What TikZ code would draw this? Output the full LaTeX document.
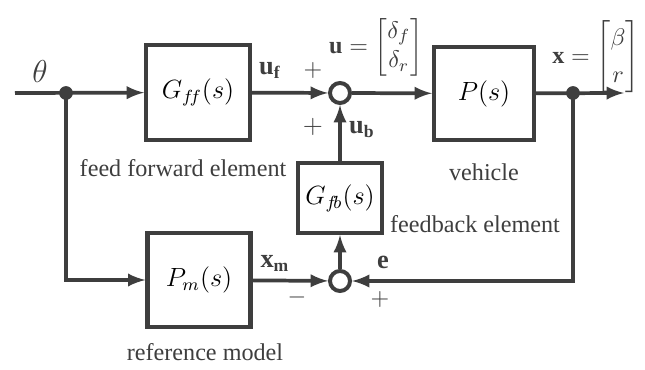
\documentclass[tikz,border=0pt]{standalone}
\usepackage{amsmath}
\usepackage{fontspec}
\setmainfont{Liberation Serif}
\usetikzlibrary{positioning}

\definecolor{ink}{RGB}{62,62,62}

\tikzset{
  blk/.style={draw=ink, line width=1.9pt, inner sep=0pt},
  sumpt/.style={draw=ink, circle, line width=1.8pt, minimum size=0.32cm, inner sep=0pt},
  dotpt/.style={circle, fill=ink, inner sep=0pt, minimum size=0.22cm},
  sig/.style={draw=ink, line width=1.7pt, -latex},
  lbl/.style={text=ink, font=\fontsize{11}{13}\selectfont},
}

\begin{document}
\begin{tikzpicture}[x=0.016cm, y=-0.016cm]
        \useasboundingbox (0,0) rectangle (645,370);
        % blocks
        \node[blk, minimum width=1.66cm, minimum height=1.52cm] (Gff) at (198,92.5) {\large $G_{f\!f}(s)$};
        \node[blk, minimum width=1.6cm, minimum height=1.49cm] (P) at (484,93.5) {\large $P(s)$};
        \node[blk, minimum width=1.34cm, minimum height=1.12cm] (Gfb) at (340,198) {\large $G_{f\!b}(s)$};
        \node[blk, minimum width=1.65cm, minimum height=1.5cm] (Pm) at (199,280) {\large $P_m(s)$};
        % junctions
        \coordinate (in) at (15,93);
        \coordinate (out) at (624,93);
        \node[dotpt] (split) at (66,93) {};
        \node[dotpt] (tap) at (573,93) {};
        \node[sumpt] (sumtop) at (340,93) {};
        \node[sumpt] (sumbot) at (340,281) {};
        % signals
        \draw[sig] (in) -- (Gff);
        \draw[sig] (Gff) -- (sumtop);
        \draw[sig] (sumtop) -- (P);
        \draw[sig] (P) -- (out);
        \draw[sig] (Gfb) -- (sumtop);
        \draw[sig] (sumbot) -- (Gfb);
        \draw[sig] (Pm) -- (sumbot);
        \draw[sig] (split.center) |- (Pm);
        \draw[sig] (tap.center) |- (sumbot);
        % signal labels
        \node[lbl] (theta) at (40,72) {\Large $\theta$};
        \node[lbl] (uf) at (270,70) {\large $\mathbf{u}_\mathbf{f}$};
        \node[lbl] (ub) at (362,130) {\large $\mathbf{u}_\mathbf{b}$};
        \node[lbl] (xm) at (275,263) {\large $\mathbf{x}_\mathbf{m}$};
        \node[lbl] (e) at (383,262) {\large $\mathbf{e}$};
        \node[lbl, inner sep=0pt] (u) at (376,47) {\renewcommand{\arraystretch}{1.05}$\mathbf{u}=\begin{bmatrix}\delta_f\\ \delta_r\end{bmatrix}$};
        \node[lbl, inner sep=0pt] (x) at (596,57) {\renewcommand{\arraystretch}{1.3}$\mathbf{x}=\begin{bmatrix}\beta\\ r\end{bmatrix}$};
        \node[lbl] (p1) at (313,70) {$+$};
        \node[lbl] (p2) at (313,127) {\large $+$};
        \node[lbl] (m1) at (297,297) {$-$};
        \node[lbl] (p3) at (380,299) {$+$};
        % block names
        \node[lbl] (nGff) at (183,168) {feed forward element};
        \node[lbl] (nP) at (484,172) {vehicle};
        \node[lbl] (nGfb) at (475,224) {feedback element};
        \node[lbl] (nPm) at (205,352) {reference model};
    \end{tikzpicture}
\end{document}
